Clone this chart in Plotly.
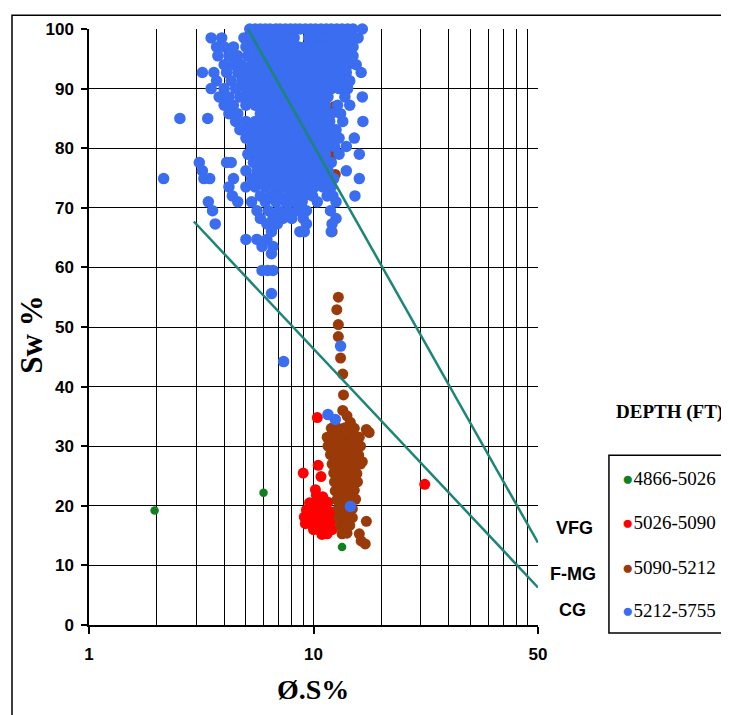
import plotly.graph_objects as go

# ---------------- data (Ø.S% porosity, Sw % water saturation) ----------------
series_names = ["4866-5026", "5026-5090", "5090-5212", "5212-5755"]
series_colors = ["#12801f", "#ff0000", "#9a3a08", "#3a6df0"]

green_phi = [1.96, 5.99, 13.4, 9.3]
green_sw = [19.2, 22.2, 13.1, 69.3]

red_phi = [10.4, 9.0, 10.5, 10.8, 10.2, 31.3,
           10.3, 11.0,
           9.6, 10.2, 10.9, 11.6,
           9.3, 9.9, 10.5, 11.2, 11.9,
           9.1, 9.7, 10.3, 11.0, 11.7, 12.4,
           9.2, 9.8, 10.5, 11.2, 11.9,
           10.0, 10.7, 11.4, 12.1,
           10.9, 11.5]
red_sw = [34.8, 25.5, 26.8, 24.9, 22.7, 23.6,
          21.8, 21.5,
          20.5, 20.7, 20.4, 20.6,
          19.3, 19.1, 19.4, 19.2, 19.0,
          18.1, 18.0, 18.2, 17.9, 18.1, 18.0,
          17.0, 16.9, 17.1, 16.8, 17.0,
          16.0, 15.9, 16.1, 16.0,
          15.2, 15.3]

brown_phi = [12.9, 12.7, 12.9, 12.9, 13.2, 13.5, 13.6, 13.5, 14.1, 14.6,
             17.7, 17.2, 16.0, 16.5, 17.2, 16.0, 17.0, 16.3,
             14.2, 11.8, 12.4, 12.4, 12.4, 12.5, 12.1,
             12.0, 12.6, 13.2, 13.8, 14.5, 15.2,
             11.5, 12.1, 12.7, 13.3, 14.0, 14.7, 15.4,
             11.6, 12.2, 12.8, 13.4, 14.1, 14.8, 15.5, 16.2,
             11.9, 12.5, 13.1, 13.7, 14.4, 15.1, 15.9,
             12.1, 12.7, 13.3, 14.0, 14.7, 15.4, 16.2,
             12.3, 12.9, 13.5, 14.2, 14.9, 15.6,
             12.4, 13.0, 13.6, 14.3, 15.0, 15.7,
             12.5, 13.1, 13.8, 14.5, 15.2,
             12.7, 13.3, 14.0, 14.7, 15.4,
             12.9, 13.5, 14.2, 14.9,
             13.0, 13.6, 14.3, 14.9,
             13.2, 13.8, 14.5,
             13.4, 14.1]
brown_sw = [55.0, 52.9, 50.4, 48.4, 44.8, 42.1, 38.6, 36.0, 35.1, 34.0,
            32.3, 32.8, 31.5, 27.4, 17.4, 15.3, 13.6, 14.1,
            91.5, 90.0, 87.0, 83.0, 79.0, 75.6, 66.0,
            33.0, 33.2, 32.9, 33.1, 32.8, 33.0,
            31.5, 31.4, 31.6, 31.5, 31.3, 31.6, 31.4,
            30.0, 30.1, 29.9, 30.0, 30.2, 29.9, 30.1, 30.0,
            28.6, 28.5, 28.4, 28.6, 28.5, 28.3, 28.5,
            27.0, 27.1, 26.9, 27.0, 27.1, 26.9, 27.0,
            25.5, 25.6, 25.4, 25.5, 25.6, 25.4,
            24.0, 24.1, 23.9, 24.0, 24.2, 24.0,
            22.5, 22.6, 22.4, 22.5, 22.6,
            21.0, 21.1, 20.9, 21.0, 21.1,
            19.5, 19.6, 19.4, 19.5,
            18.0, 18.1, 17.9, 18.0,
            16.6, 16.5, 16.7,
            15.3, 15.4]

blue_sw_levels = [100, 98.5, 97.0, 95.5, 94.0, 92.7, 91.3, 90.0, 88.6, 87.2,
                  85.8, 84.5, 83.1, 81.7, 80.3, 79.0, 77.6, 76.2, 74.9, 73.5,
                  72.0, 71.0, 69.5, 68.2, 67.3, 66.0, 64.7, 63.5, 62.3, 59.5,
                  55.6, 46.8, 44.2, 35.3, 34.5, 19.9, 85.0]
blue_phi_rows = [
    [5.2, 5.5, 5.8, 6.1, 6.4, 6.8, 7.1, 7.5, 7.9, 8.3, 8.7, 9.2, 9.7, 10.2, 10.8, 11.4, 12.0, 12.7, 13.4, 14.2, 15.0, 16.5],
    [3.5, 3.9, 4.9, 5.3, 5.7, 6.2, 6.7, 7.2, 7.7, 8.2, 9.5, 10.0, 10.6, 11.2, 11.9, 12.6, 13.5, 14.5, 15.8],
    [3.7, 4.0, 4.4, 5.0, 5.4, 5.9, 6.4, 6.9, 7.4, 8.0, 8.6, 9.2, 9.8, 10.4, 11.0, 11.7, 12.4, 13.2, 14.0, 15.0],
    [3.75, 4.2, 4.6, 5.1, 5.6, 6.1, 6.6, 7.1, 7.6, 8.2, 8.8, 9.4, 10.0, 10.7, 11.4, 12.1, 12.9, 13.8, 15.0],
    [4.0, 4.4, 4.8, 5.3, 5.8, 6.3, 6.8, 7.3, 7.9, 8.5, 9.1, 9.7, 10.3, 11.0, 11.7, 12.5, 13.3, 14.3, 15.5],
    [3.2, 3.6, 4.1, 4.6, 5.0, 5.5, 6.0, 6.5, 7.0, 7.6, 8.2, 8.8, 9.4, 10.0, 10.7, 11.4, 12.1, 13.0, 14.0, 16.3],
    [3.7, 4.3, 4.8, 5.2, 5.7, 6.2, 6.7, 7.2, 7.8, 8.4, 9.0, 9.7, 10.3, 11.0, 11.7, 12.6, 13.5, 14.5],
    [3.5, 4.0, 4.5, 5.0, 5.4, 5.9, 6.4, 6.9, 7.5, 8.1, 8.7, 9.3, 10.0, 10.6, 11.3, 12.0, 13.0, 14.2],
    [3.8, 4.2, 4.7, 5.2, 5.6, 6.1, 6.6, 7.2, 7.8, 8.4, 9.0, 9.6, 10.3, 11.0, 11.6, 13.8, 16.5],
    [4.0, 4.4, 5.0, 5.5, 6.0, 6.5, 7.0, 7.5, 8.1, 8.7, 9.3, 10.0, 10.6, 11.3, 12.8, 14.5],
    [4.2, 4.6, 5.8, 6.3, 6.8, 7.4, 8.0, 8.6, 9.2, 9.8, 10.5, 11.2, 12.0, 13.2],
    [4.5, 5.0, 5.5, 6.0, 6.5, 7.1, 7.7, 8.3, 8.9, 9.6, 10.2, 11.0, 11.8, 13.5, 16.6],
    [4.7, 5.2, 5.7, 6.2, 6.8, 7.4, 8.0, 8.6, 9.2, 9.9, 10.6, 11.4, 12.6],
    [5.0, 5.5, 6.0, 6.5, 7.1, 7.7, 8.3, 8.9, 9.6, 10.3, 11.0, 11.8, 13.0, 15.2],
    [5.3, 5.8, 6.3, 6.8, 7.4, 8.0, 8.6, 9.3, 10.0, 10.8, 11.6, 12.4, 14.0],
    [5.1, 5.6, 6.1, 6.6, 7.2, 7.8, 8.5, 9.1, 9.8, 10.5, 11.3, 13.0, 16.0],
    [3.1, 4.1, 4.3, 5.4, 5.9, 6.4, 7.0, 7.6, 8.2, 8.9, 9.6, 10.3, 11.1, 12.0],
    [3.2, 5.0, 5.6, 6.2, 6.7, 7.3, 7.9, 8.6, 9.3, 10.0, 10.8, 11.6, 14.0],
    [2.15, 3.25, 3.45, 4.4, 5.3, 5.8, 6.4, 6.9, 7.5, 8.2, 8.9, 9.6, 10.4, 11.3, 12.3, 16.0],
    [4.2, 5.0, 5.5, 6.1, 6.7, 7.3, 7.9, 8.6, 9.3, 10.1, 11.0, 12.0],
    [4.35, 5.8, 6.4, 7.0, 7.7, 8.4, 9.1, 9.9, 11.5, 12.2, 15.3],
    [3.4, 4.6, 5.3, 6.1, 6.8, 7.5, 8.2, 8.9, 10.4, 12.6],
    [3.55, 5.6, 6.3, 7.0, 7.7, 8.5, 9.3, 11.9],
    [5.8, 6.6, 7.3, 8.0, 9.0, 12.6],
    [3.65, 6.2, 6.9, 9.3, 12.1],
    [6.5, 8.7, 9.1, 12.0],
    [5.0, 5.6, 6.2],
    [5.9, 6.6],
    [6.5],
    [5.9, 6.25, 6.6],
    [6.5],
    [13.2],
    [7.36],
    [11.6],
    [12.5],
    [14.6],
    [2.54, 3.38],
]
blue_phi = [p for row in blue_phi_rows for p in row]
blue_sw = [s for s, row in zip(blue_sw_levels, blue_phi_rows) for _ in row]

# grain-size boundary lines
line_vfg_phi = [5.1, 100]
line_vfg_sw = [100, 13.8]
line_fmg_phi = [2.93, 100]
line_fmg_sw = [67.7, 6.3]

x_major = [1, 10, 100]
x_major_text = ["1", "10", "50"]
x_minor = [2, 3, 4, 5, 6, 7, 8, 9, 20, 30, 40, 50, 60, 70, 80, 90]
y_ticks = [0, 10, 20, 30, 40, 50, 60, 70, 80, 90, 100]

# ---------------- figure ----------------
fig = go.Figure()
marker_sizes = [8.5, 11, 11, 11.5]
for name, color, xs, ys, ms in zip(series_names, series_colors,
                                   [green_phi, red_phi, brown_phi, blue_phi],
                                   [green_sw, red_sw, brown_sw, blue_sw], marker_sizes):
    fig.add_trace(go.Scatter(x=xs, y=ys, mode="markers", name=name, showlegend=False,
                             cliponaxis=False,
                             marker=dict(color=color, size=ms, line=dict(width=0))))

for xs, ys in [(line_vfg_phi, line_vfg_sw), (line_fmg_phi, line_fmg_sw)]:
    fig.add_trace(go.Scatter(x=xs, y=ys, mode="lines", showlegend=False,
                             line=dict(color="#1b8577", width=2.5)))

sans = "Liberation Sans, Arial, sans-serif"
serif = "Liberation Serif, Times New Roman, serif"

fig.update_xaxes(type="log", range=[0, 2], tickmode="array", tickvals=x_major,
                 ticktext=x_major_text, ticks="outside", ticklen=7, tickwidth=1.5,
                 tickcolor="black", showgrid=True, gridcolor="black", gridwidth=1.3,
                 showline=True, linecolor="black", linewidth=1.5, zeroline=False,
                 ticklabelstandoff=6,
                 tickfont=dict(family=sans, size=17, color="black", weight="bold"),
                 minor=dict(tickmode="array", tickvals=x_minor, showgrid=True,
                            gridcolor="black", gridwidth=1.3, ticks=""))
fig.update_yaxes(range=[0, 100], tickmode="array", tickvals=y_ticks, ticks="outside",
                 ticklen=6, tickwidth=1.5, tickcolor="black", showgrid=True,
                 gridcolor="black", gridwidth=1.3, showline=True, linecolor="black",
                 linewidth=1.5, zeroline=False, ticklabelstandoff=4,
                 tickfont=dict(family=sans, size=17, color="black", weight="bold"))

annotations = [
    dict(text="Sw %", x=-0.127, y=0.487, textangle=-90,
         font=dict(family=serif, size=31, color="black", weight="bold")),
    dict(text="Ø.S%", x=0.499, y=-0.108,
         font=dict(family=serif, size=28, color="black", weight="bold")),
    dict(text="VFG", x=1.082, y=0.163, font=dict(family=sans, size=18, color="black", weight="bold")),
    dict(text="F-MG", x=1.078, y=0.086, font=dict(family=sans, size=18, color="black", weight="bold")),
    dict(text="CG", x=1.076, y=0.025, font=dict(family=sans, size=18, color="black", weight="bold")),
    dict(text="DEPTH (FT)", x=1.292, y=0.357,
         font=dict(family=serif, size=19, color="black", weight="bold")),
]
legend_y = [0.245, 0.172, 0.096, 0.025]
for name, color, ly in zip(series_names, series_colors, legend_y):
    annotations.append(dict(
        text=f"<span style='color:{color};font-size:19px'>●</span>{name}",
        x=1.183, y=ly, xanchor="left", font=dict(family=serif, size=19, color="black")))
for a in annotations:
    a.setdefault("xanchor", "center")
    a.update(xref="paper", yref="paper", yanchor="middle", showarrow=False)

shapes = [
    dict(type="rect", xref="paper", yref="paper", x0=1.158, x1=1.45, y0=-0.0133, y1=0.285,
         line=dict(color="black", width=1.5), fillcolor="rgba(0,0,0,0)"),
    dict(type="rect", xref="paper", yref="paper", x0=-0.1715, x1=1.45, y0=-0.2, y1=1.023,
         line=dict(color="black", width=1.5), fillcolor="rgba(0,0,0,0)"),
]

# the page adds an 8px body margin, so margins are offset to keep the plot area in place
fig.update_layout(width=729, height=715, margin=dict(l=81, r=199, t=14, b=98),
                  paper_bgcolor="white", plot_bgcolor="white",
                  annotations=annotations, shapes=shapes, showlegend=False)

fig.write_html("out.html")
